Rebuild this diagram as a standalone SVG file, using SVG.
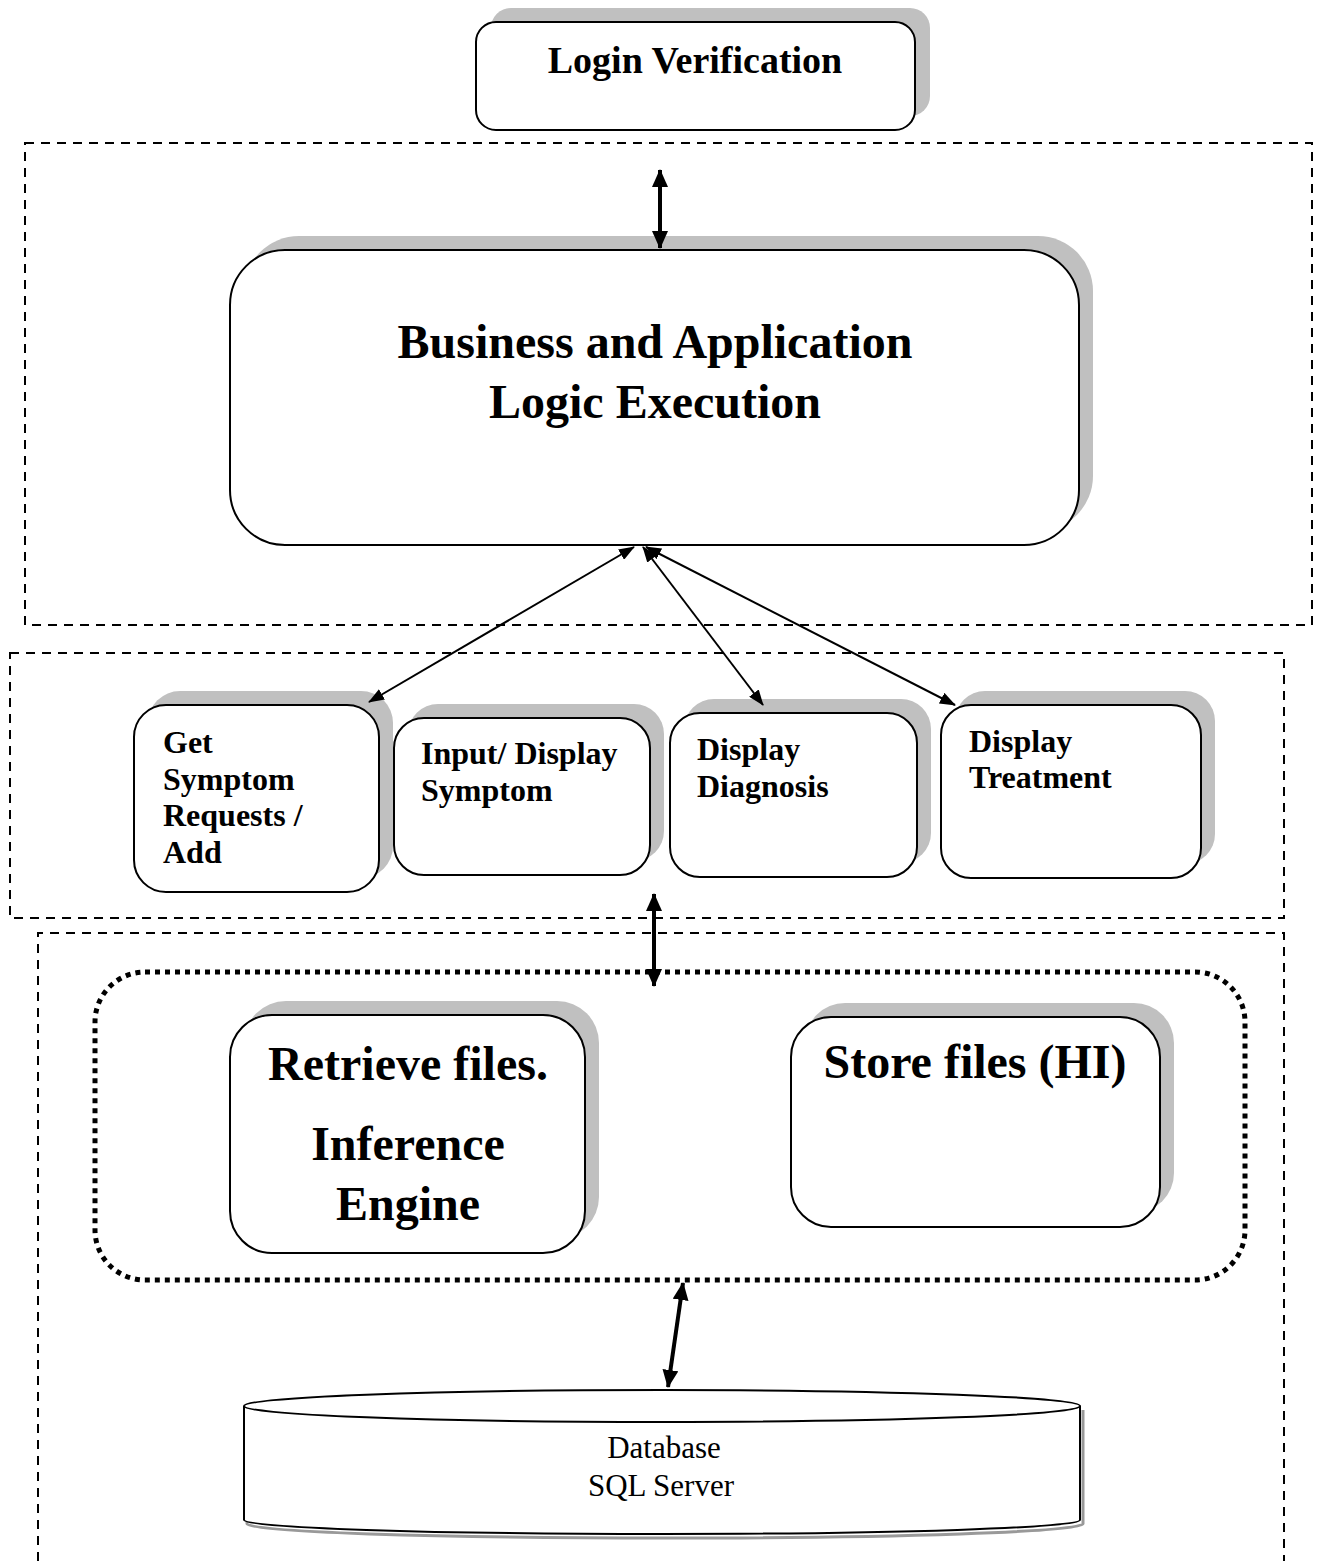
<svg xmlns="http://www.w3.org/2000/svg" width="1317" height="1561" viewBox="0 0 1317 1561">
<style>
.box{fill:#fff;stroke:#000;stroke-width:2}
.sh{fill:#c0c0c0;stroke:none}
.dash{fill:none;stroke:#000;stroke-width:2;stroke-dasharray:9 7}
.dot{fill:none;stroke:#000;stroke-width:5;stroke-dasharray:5 5}
.t{font-family:"Liberation Serif","Times New Roman",serif;font-weight:bold;fill:#000}
.r{font-family:"Liberation Serif","Times New Roman",serif;fill:#000}
.thin{stroke:#000;stroke-width:2;fill:none}
.thick{stroke:#000;stroke-width:4;fill:none}
</style>
<defs>
<marker id="ah" markerUnits="userSpaceOnUse" markerWidth="16" markerHeight="12" refX="15" refY="6" orient="auto-start-reverse" viewBox="0 0 16 12">
<path d="M0,0 L16,6 L0,12 Z" fill="#000"/>
</marker>
<marker id="ahb" markerUnits="userSpaceOnUse" markerWidth="18" markerHeight="16" refX="17" refY="8" orient="auto-start-reverse" viewBox="0 0 18 16">
<path d="M0,0 L18,8 L0,16 Z" fill="#000"/>
</marker>
</defs>
<rect width="1317" height="1561" fill="#fff"/>

<g id="layers">
<rect class="dash" x="25" y="143" width="1287" height="482"/>
<rect class="dash" x="10" y="653" width="1274" height="265"/>
<path class="dash" d="M38,1561 V933 H1284 V1561"/>
<rect class="dot" x="95" y="972" width="1150" height="308" rx="50"/>
</g>

<g id="login">
<rect class="sh" x="491" y="8" width="439" height="108" rx="20"/>
<rect class="box" x="476" y="22" width="439" height="108" rx="20"/>
<text class="t" x="695" y="73" font-size="38" text-anchor="middle">Login Verification</text>
</g>

<g id="business">
<rect class="sh" x="244" y="236" width="849" height="295" rx="55"/>
<rect class="box" x="230" y="250" width="849" height="295" rx="55"/>
<text class="t" x="655" y="358" font-size="48" text-anchor="middle">Business and Application</text>
<text class="t" x="655" y="418" font-size="48" text-anchor="middle">Logic Execution</text>
</g>

<g id="get-symptom">
<rect class="sh" x="148" y="691" width="245" height="187" rx="32"/>
<rect class="box" x="134" y="705" width="245" height="187" rx="32"/>
<text class="t" font-size="32"><tspan x="163" y="753">Get</tspan><tspan x="163" y="790">Symptom</tspan><tspan x="163" y="826">Requests /</tspan><tspan x="163" y="863">Add</tspan></text>
</g>

<g id="input-display">
<rect class="sh" x="408" y="704" width="256" height="157" rx="30"/>
<rect class="box" x="394" y="718" width="256" height="157" rx="30"/>
<text class="t" font-size="32"><tspan x="421" y="764">Input/ Display</tspan><tspan x="421" y="801">Symptom</tspan></text>
</g>

<g id="display-diagnosis">
<rect class="sh" x="684" y="699" width="247" height="164" rx="30"/>
<rect class="box" x="670" y="713" width="247" height="164" rx="30"/>
<text class="t" font-size="32"><tspan x="697" y="760">Display</tspan><tspan x="697" y="797">Diagnosis</tspan></text>
</g>

<g id="display-treatment">
<rect class="sh" x="955" y="691" width="260" height="173" rx="30"/>
<rect class="box" x="941" y="705" width="260" height="173" rx="30"/>
<text class="t" font-size="32"><tspan x="969" y="752">Display</tspan><tspan x="969" y="788">Treatment</tspan></text>
</g>

<g id="retrieve">
<rect class="sh" x="244" y="1001" width="355" height="238" rx="42"/>
<rect class="box" x="230" y="1015" width="355" height="238" rx="42"/>
<text class="t" font-size="48" text-anchor="middle"><tspan x="408" y="1080">Retrieve files.</tspan><tspan x="408" y="1160">Inference</tspan><tspan x="408" y="1220">Engine</tspan></text>
</g>

<g id="store">
<rect class="sh" x="805" y="1003" width="369" height="210" rx="40"/>
<rect class="box" x="791" y="1017" width="369" height="210" rx="40"/>
<text class="t" x="975" y="1078" font-size="48" text-anchor="middle">Store files (HI)</text>
</g>

<g id="database">
<path d="M247,1410 V1524 A418,14 0 0 0 1083,1524 V1410" fill="none" stroke="#999" stroke-width="3"/>
<path d="M244,1406 V1520 A418,14 0 0 0 1080,1520 V1406" fill="#fff" stroke="#000" stroke-width="2"/>
<ellipse cx="662" cy="1406" rx="418" ry="16" fill="#fff" stroke="#000" stroke-width="2"/>
<text class="r" font-size="31" text-anchor="middle"><tspan x="664" y="1458">Database</tspan><tspan x="661" y="1496">SQL Server</tspan></text>
</g>

<g id="connectors">
<line class="thick" x1="660" y1="248" x2="660" y2="170" marker-start="url(#ahb)" marker-end="url(#ahb)"/>
<line class="thin" x1="634" y1="547" x2="369" y2="702" marker-start="url(#ah)" marker-end="url(#ah)"/>
<line class="thin" x1="643" y1="547" x2="763" y2="705" marker-start="url(#ah)" marker-end="url(#ah)"/>
<line class="thin" x1="646" y1="547" x2="955" y2="705" marker-start="url(#ah)" marker-end="url(#ah)"/>
<line class="thick" x1="654" y1="894" x2="654" y2="986" marker-start="url(#ahb)" marker-end="url(#ahb)"/>
<line class="thick" x1="683" y1="1283" x2="668" y2="1387" marker-start="url(#ahb)" marker-end="url(#ahb)"/>
</g>
</svg>
